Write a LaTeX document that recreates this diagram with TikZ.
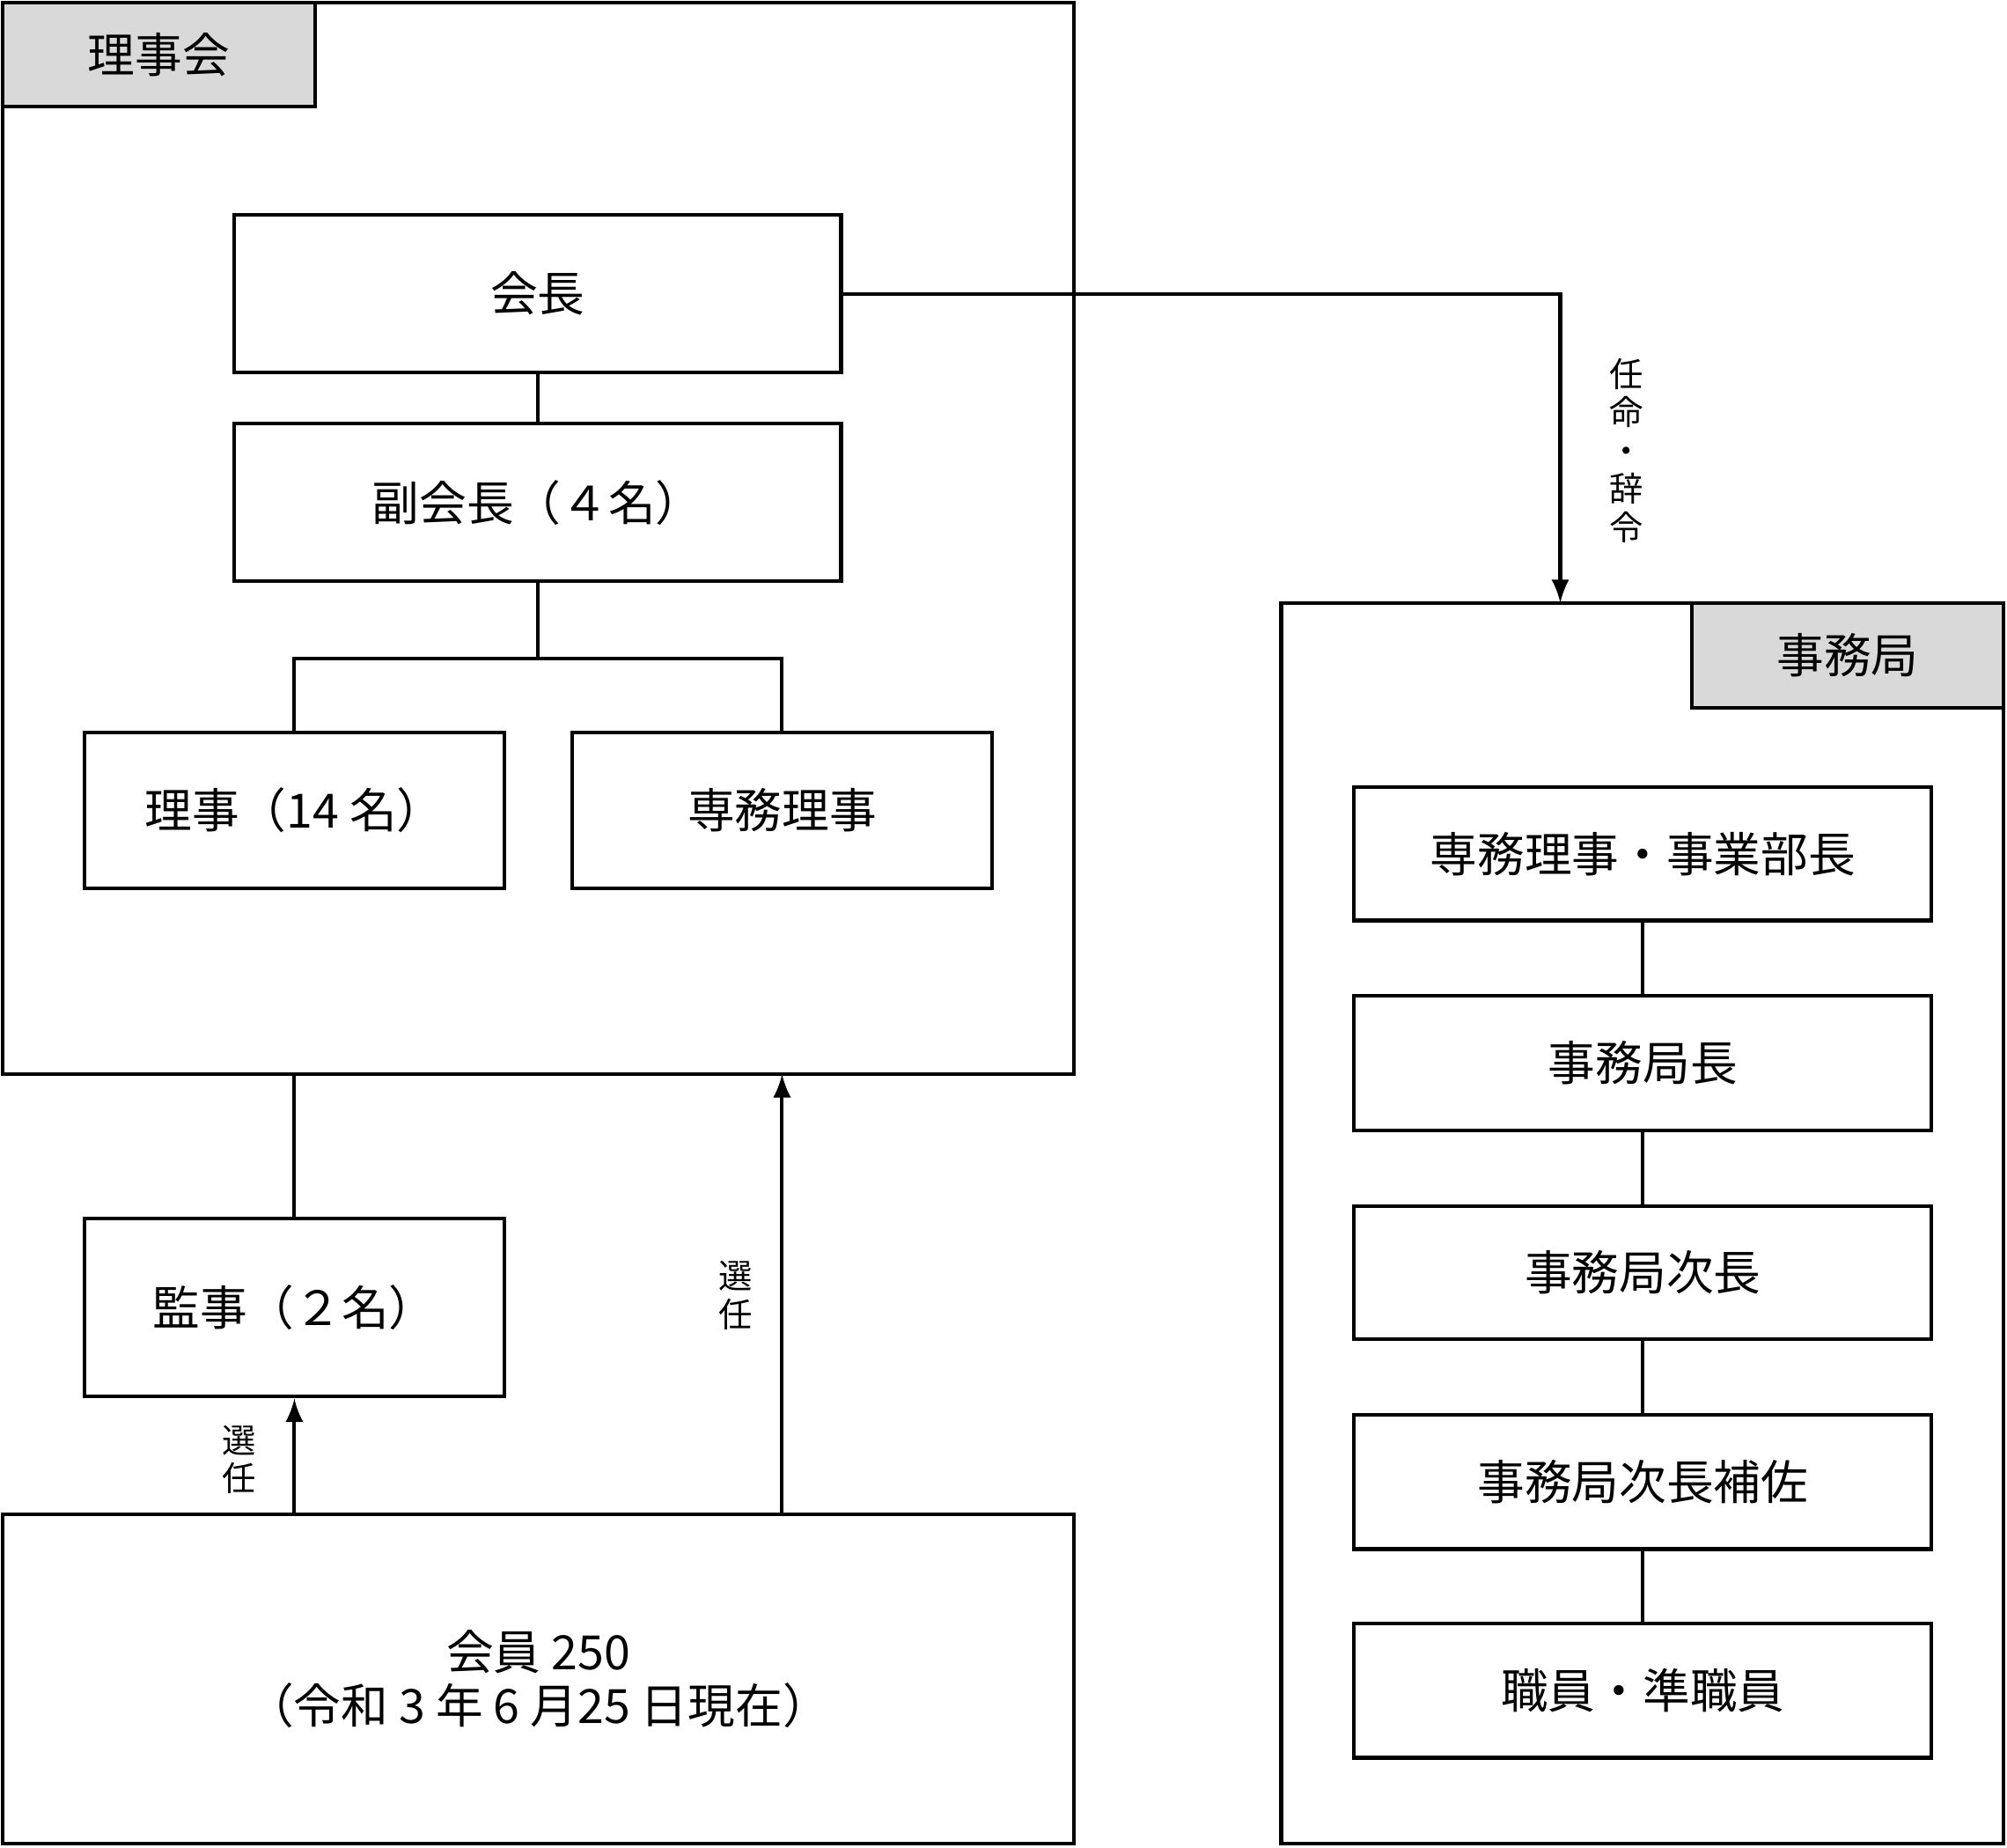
\documentclass[tikz,border=0pt]{standalone}
\usepackage{fontspec}
\setmainfont{Noto Sans CJK JP}
\usetikzlibrary{positioning, arrows}
\tikzset{>=latex,
box/.style={draw, thick, fill=white, font=\fontsize{10.5}{12}\selectfont, inner sep=0pt},
tag/.style={draw, thick, fill=gray!30, font=\fontsize{10.5}{12}\selectfont, inner sep=0pt},
vlabel/.style={font=\fontsize{7.5}{8.5}\selectfont, align=center, inner sep=0pt},
}

\begin{document}
\begin{tikzpicture}[x=0.01cm, y=-0.01cm]
    \useasboundingbox (0,0) rectangle (1568,1443);

    % frames
    \draw[thick] (2,2) rectangle (839,839);
    \node[tag, minimum width=2.44cm, minimum height=0.81cm] (board) at (124,42.5) {理事会};
    \draw[thick] (1001,471) rectangle (1565,1440);
    \node[tag, minimum width=2.43cm, minimum height=0.82cm] (office) at (1443.5,512) {事務局};

    % board
    \node[box, minimum width=4.74cm, minimum height=1.23cm] (pres) at (420,229.5) {会長};
    \node[box, minimum width=4.74cm, minimum height=1.23cm] (vice) at (420,392.5) {副会長（４名）};
    \node[box, minimum width=3.28cm, minimum height=1.22cm] (dir) at (230,633) {理事（14 名）};
    \node[box, minimum width=3.28cm, minimum height=1.22cm] (exec) at (611,633) {専務理事};
    \node[box, minimum width=3.28cm, minimum height=1.39cm] (audit) at (230,1021.5) {監事（２名）};
    \node[box, minimum width=8.37cm, minimum height=2.57cm, align=center] (members) at (420.5,1311.5) {会員 250\\（令和 3 年 6 月25 日現在）};

    % office
    \node[box, minimum width=4.51cm, minimum height=1.04cm] (s1) at (1283.5,667) {専務理事・事業部長};
    \node[box, minimum width=4.51cm, minimum height=1.05cm] (s2) at (1283.5,830.5) {事務局長};
    \node[box, minimum width=4.51cm, minimum height=1.04cm] (s3) at (1283.5,994) {事務局次長};
    \node[box, minimum width=4.51cm, minimum height=1.05cm] (s4) at (1283.5,1157.5) {事務局次長補佐};
    \node[box, minimum width=4.51cm, minimum height=1.05cm] (s5) at (1283.5,1320.5) {職員・準職員};

    \coordinate (boardbot) at (230,839);
    \coordinate (boardin) at (611,839);
    \coordinate (officetop) at (1219,471);

    \draw[thick] (pres) -- (vice);
    \draw[thick] (vice.south) -- ++(0,59) -| (dir.north);
    \draw[thick] (vice.south) -- ++(0,59) -| (exec.north);
    \draw[thick] (audit.north) -- (boardbot);
    \draw[thick, ->] (members.north -| audit) -- (audit.south);
    \draw[thick, ->] (members.north -| boardin) -- (boardin);
    \draw[thick, ->] (pres.east) -| (officetop);
    \foreach \a/\b in {s1/s2, s2/s3, s3/s4, s4/s5}
        \draw[thick] (\a) -- (\b);

    \node[vlabel] (l1) at (187,1140) {選\\任};
    \node[vlabel] (l2) at (575,1012) {選\\任};
    \node[vlabel] (l3) at (1271,352) {任\\命\\・\\辞\\令};
\end{tikzpicture}
\end{document}
